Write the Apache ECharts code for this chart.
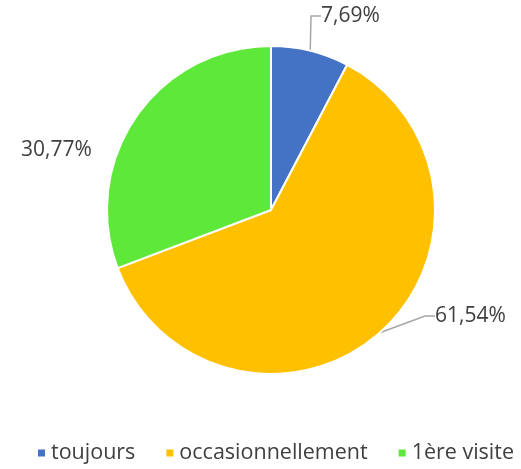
<!DOCTYPE html>
<html>
<head>
<meta charset="utf-8">
<script src="https://cdn.jsdelivr.net/npm/echarts@6/dist/echarts.min.js"></script>
<style>
  html, body { margin: 0; padding: 0; background: #fff; }
  #chart { width: 521px; height: 469px; }
</style>
</head>
<body>
<div id="chart"></div>
<script>
const categories = ["toujours", "occasionnellement", "1ère visite"];
const values = [7.69, 61.54, 30.77];
const colors = ["#4472C4", "#FFC000", "#5EE83A"];

// where each percentage label sits (left edge, vertical centre)
const labelSpots = [
  { x: 321, y: 16, line: true },
  { x: 435, y: 316, line: true },
  { x: 21, y: 150, line: false }
];

const chart = echarts.init(document.getElementById("chart"));
const fontFamily = "'Open Sans', 'Noto Sans', sans-serif";

chart.setOption({
  animation: false,
  color: colors,
  legend: {
    bottom: 0,
    left: 31,
    icon: "rect",
    itemWidth: 9,
    itemHeight: 9,
    itemGap: 29,
    textStyle: { fontSize: 21.5, color: "#404040", fontFamily: fontFamily }
  },
  series: [
    {
      type: "pie",
      center: [271, 210],
      radius: 164,
      startAngle: 90,
      clockwise: true,
      itemStyle: { borderColor: "#fff", borderWidth: 2 },
      label: {
        show: true,
        position: "outside",
        fontSize: 21,
        color: "#404040",
        fontFamily: fontFamily,
        formatter: p => p.value.toFixed(2).replace(".", ",") + "%"
      },
      labelLine: {
        show: true,
        length: 20,
        length2: 10,
        lineStyle: { color: "#A6A6A6", width: 1.5 }
      },
      labelLayout: p => {
        const s = labelSpots[p.dataIndex];
        return { x: s.x, y: s.y, align: "left", verticalAlign: "middle" };
      },
      data: categories.map((c, i) => ({
        name: c,
        value: values[i],
        labelLine: { show: labelSpots[i].line }
      }))
    }
  ]
});
</script>
</body>
</html>
